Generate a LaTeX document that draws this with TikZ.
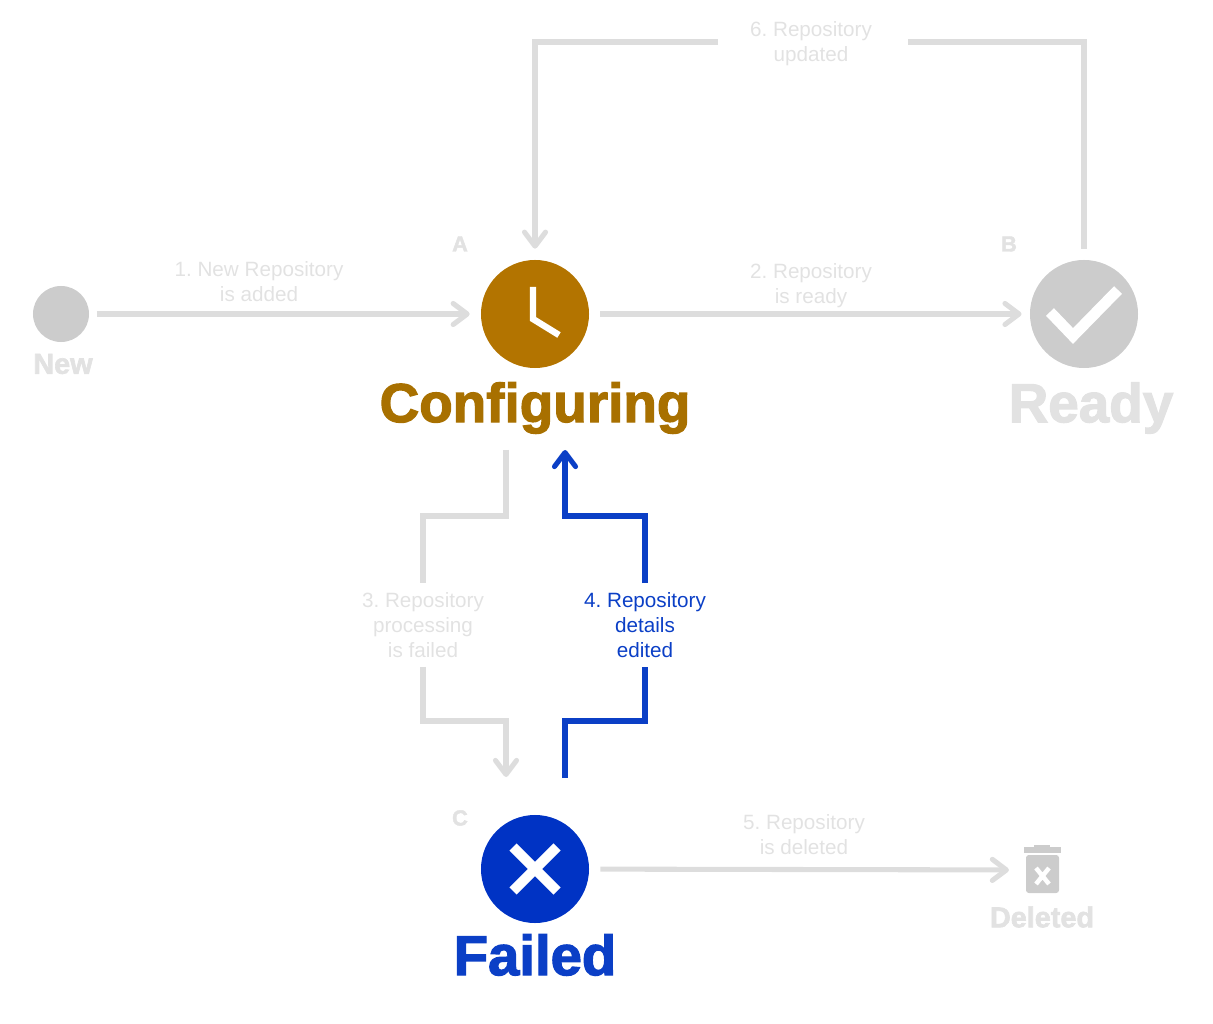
\documentclass[tikz,border=0pt]{standalone}
\usepackage{fontspec}
\setmainfont{Liberation Sans}
\newfontfamily\heavyfont[BoldFeatures={FakeBold=2.2}]{Liberation Sans}
\usetikzlibrary{arrows.meta}
\definecolor{flowgrey}{HTML}{DDDDDD}
\definecolor{textgrey}{HTML}{E2E2E2}
\definecolor{discgrey}{HTML}{CCCCCC}
\definecolor{cfgdisc}{HTML}{B37400}
\definecolor{cfgtext}{HTML}{A87000}
\definecolor{faildisc}{HTML}{0033C4}
\definecolor{failtext}{HTML}{0B3FC6}
\frenchspacing
\begin{document}
\begin{tikzpicture}[x=0.025cm,y=-0.025cm,
    >={Straight Barb[length=10pt,width=15pt,round]},
    flow/.style={draw=flowgrey,line width=3.6pt},
    flowblue/.style={draw=failtext,line width=3.6pt},
    disc/.style={circle,inner sep=0pt,minimum size=2.7cm,outer sep=8pt},
    lbl/.style={align=center,font=\fontsize{14.7}{17.8}\selectfont,text=textgrey,inner sep=0pt},
    title/.style={font=\heavyfont\bfseries\fontsize{39}{44}\selectfont,inner sep=0pt},
    small/.style={font=\heavyfont\bfseries\fontsize{20.5}{24}\selectfont,text=textgrey,inner sep=0pt},
    letter/.style={font=\heavyfont\bfseries\fontsize{15.5}{18}\selectfont,text=textgrey,inner sep=0pt},
    icon/.style={draw=white,miter limit=10}]
    \useasboundingbox (0,0) rectangle (1213,1024);
    % states
    \node[disc,fill=discgrey,minimum size=1.4cm,outer sep=5.5pt] (new) at (61,314) {};
    \node[disc,fill=cfgdisc] (cfg) at (535,314) {};
    \node[disc,fill=discgrey] (rdy) at (1084,314) {};
    \node[disc,fill=faildisc] (fail) at (535,869) {};
    \node[inner sep=0pt,minimum width=0.95cm,minimum height=1.2cm,outer sep=10pt] (trash) at (1042,870) {};
    % state names
    \node[small] (newname) at (63,364) {New};
    \node[small] (delname) at (1042,917) {Deleted};
    \node[title,text=cfgtext] (cfgname) at (535,408) {Configuring};
    \node[title,text=textgrey] (rdyname) at (1091,408) {Ready};
    \node[title,text=failtext,font=\heavyfont\bfseries\fontsize{40}{44}\selectfont] (failname) at (535,955) {Failed};
    \node[letter] (a) at (460,244) {A};
    \node[letter] (b) at (1009,244) {B};
    \node[letter] (c) at (460,818) {C};
    % icons
    \draw[icon,line width=4.6pt] (533,287)--(533,319)--(559,335);
    \draw[icon,line width=7.8pt] (1050,312)--(1073,336)--(1118,290);
    \draw[icon,line width=7.2pt] (513,847)--(557,891) (557,847)--(513,891);
    \fill[discgrey] (1034,847) rectangle (1050,845);
    \fill[discgrey] (1024,847) rectangle (1061,853);
    \fill[discgrey,rounded corners=2pt] (1026,855) rectangle (1059,893);
    \draw[icon,line width=3.2pt] (1036,868)--(1049,884) (1049,868)--(1036,884);
    % flow labels
    \node[lbl] (lbl1) at (259,282) {1. New Repository\\is added};
    \node[lbl] (lbl2) at (811,286) {2. Repository\\is ready};
    \node[lbl,minimum height=2.075cm] (lbl3) at (423,625) {3. Repository\\processing\\is failed};
    \node[lbl,text=failtext,minimum height=2.075cm] (lbl4) at (645,625) {4. Repository\\details\\edited};
    \node[lbl] (lbl5) at (804,835) {5. Repository\\is deleted};
    \node[lbl] (lbl6) at (811,44) {6. Repository\\updated};
    % flows
    \coordinate (cfgout) at (506,450);
    \coordinate (cfgin) at (565,450);
    \coordinate (failin) at (506,777);
    \coordinate (failout) at (565,778);
    \coordinate (gapright) at (908,42);
    \coordinate (gapleft) at (718,42);
    \draw[flow,->] (new)--(cfg);
    \draw[flow,->,shorten >=-2pt] (cfg)--(rdy);
    \draw[flow,->] (fail)--(trash);
    \draw[flow] (rdy.north) |- (gapright);
    \draw[flow,->] (gapleft) -| (cfg.north);
    \draw[flow] (cfgout)--(506,516) -| (lbl3.north);
    \draw[flow,->] (lbl3.south)--(423,721) -| (failin);
    \draw[flowblue] (failout)--(565,721) -| (lbl4.south);
    \draw[flowblue,->] (lbl4.north)--(645,516) -| (cfgin);
\end{tikzpicture}
\end{document}
